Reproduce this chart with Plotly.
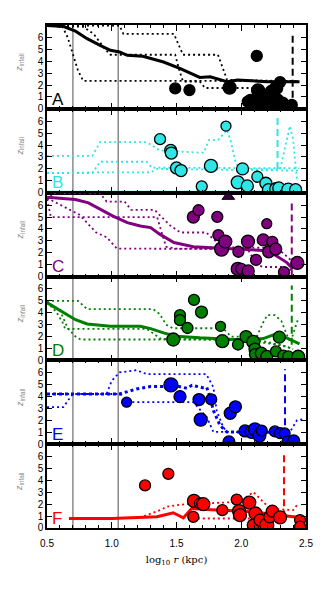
import plotly.graph_objects as go
from plotly.subplots import make_subplots

# ---- values ----
LABELS = ["A", "B", "C", "D", "E", "F"]
COLORS = ["#000000", "#2EE6E6", "#800080", "#007F00", "#0000FF", "#FF0000"]
RVIR = [2.397, 2.28, 2.39, 2.39, 2.338, 2.33]
RVIR_Y0 = [0.0, 2.0, 0.0, 1.3, 1.6, 0.9]
RVIR_Y1 = [6.35, 6.3, 6.25, 6.3, 6.3, 6.25]
GRAY_LINES = [0.7, 1.05]

# panel A
A_r = [1.49, 1.60, 1.91, 2.12, 2.05, 2.07, 2.13, 2.13, 2.17, 2.12, 2.20, 2.235, 2.27, 2.30, 2.26, 2.28, 2.32, 2.39]
A_z = [1.72, 1.58, 1.78, 4.45, 0.61, 0.75, 1.55, 0.83, 1.0, 0.35, 0.5, 1.44, 1.75, 2.25, 0.61, 0.75, 0.47, 0.33]
A_s = [11, 11, 13, 11, 11, 11, 13, 12, 13, 12, 12, 13, 13, 11, 13, 12, 12, 11]
A_med_x = [0.5, 0.63, 0.72, 0.81, 0.91, 0.99, 1.06, 1.12, 1.24, 1.40, 1.53, 1.68, 1.76, 1.89, 1.97, 2.09, 2.20, 2.45]
A_med_y = [7.0, 6.92, 6.53, 5.9, 5.33, 4.92, 4.78, 4.5, 4.42, 3.94, 3.39, 2.64, 2.69, 2.28, 2.42, 2.36, 2.28, 2.28]
A_hi_x = [0.5, 1.06, 1.09, 1.48, 1.55, 1.82, 1.89, 2.45]
A_hi_y = [7.0, 7.0, 6.3, 6.3, 4.55, 4.55, 2.45, 2.3]
A_mid_x = [0.5, 0.78, 0.86, 0.95, 0.99, 1.49, 1.52, 1.55, 1.68, 1.72, 1.86, 1.95, 2.10]
A_mid_y = [7.0, 6.9, 6.3, 5.0, 4.55, 4.55, 3.3, 2.3, 2.3, 1.75, 1.75, 1.75, 1.75]
A_lo_x = [0.5, 0.62, 0.66, 0.70, 0.74, 0.78, 2.45]
A_lo_y = [7.0, 6.9, 6.0, 4.6, 3.2, 2.35, 2.35]

# panel B
B_r = [1.373, 1.455, 1.46, 1.50, 1.535, 1.695, 1.766, 1.882, 1.973, 2.01, 2.047, 2.124, 2.19, 2.21, 2.27, 2.29, 2.363, 2.42]
B_z = [4.5, 3.55, 3.33, 2.08, 1.86, 0.53, 2.25, 5.6, 0.87, 2.0, 0.57, 1.34, 0.79, 0.25, 0.3, 0.4, 0.25, 0.25]
B_s = [11, 12, 12, 12, 12, 11, 13, 10, 13, 12, 12, 11, 12, 12, 13, 12, 13, 12]
B_med_x = [0.5, 2.45]
B_med_y = [0.04, 0.04]
B_hi_x = [0.5, 0.85, 0.91, 1.27, 1.37, 1.66, 1.71, 1.75, 1.82, 1.89, 1.92, 1.96, 2.05, 2.30, 2.35, 2.376, 2.40, 2.43]
B_hi_y = [3.1, 3.1, 4.25, 4.25, 3.55, 3.35, 3.35, 4.42, 4.42, 5.3, 4.3, 2.4, 2.0, 1.95, 4.5, 5.6, 4.5, 1.1]
B_mid_x = [0.5, 0.85, 0.91, 1.27, 1.31, 2.45]
B_mid_y = [1.65, 1.65, 2.6, 2.6, 2.1, 2.05]
B_lo_x = [0.5, 0.85, 1.30, 1.35, 2.45]
B_lo_y = [1.65, 1.7, 1.7, 2.0, 1.85]

# panel C
C_r = [1.63, 1.67, 1.815, 1.823, 1.848, 1.877, 1.978, 1.973, 2.0, 2.054, 2.052, 2.114, 2.197, 2.17, 2.212, 2.24, 2.266, 2.33, 2.433]
C_z = [5.0, 5.57, 5.02, 3.48, 2.31, 2.94, 2.08, 0.64, 0.64, 0.47, 2.94, 1.39, 4.44, 3.08, 2.08, 2.92, 2.31, 0.36, 1.14]
C_s = [12, 11, 11, 11, 14, 13, 11, 13, 11, 12, 13, 11, 10, 12, 12, 11, 12, 11, 13]
C_tri_r = [1.90]
C_tri_z = [6.72]
C_med_x = [0.5, 0.72, 0.82, 0.91, 1.01, 1.12, 1.22, 1.30, 1.37, 1.48, 1.63, 1.81, 1.94, 2.09, 2.20, 2.27, 2.35, 2.40]
C_med_y = [6.67, 6.47, 6.19, 5.64, 5.08, 4.53, 4.25, 4.11, 3.56, 2.86, 2.5, 2.39, 2.31, 2.22, 2.17, 1.75, 1.19, 0.64]
C_hi_x = [0.5, 0.55, 0.91, 0.96, 1.10, 1.15, 1.33, 1.45, 1.53, 1.73, 1.80, 1.90, 2.25, 2.32, 2.40]
C_hi_y = [6.4, 7.0, 7.0, 6.3, 6.3, 5.6, 5.6, 4.3, 3.7, 3.7, 3.0, 2.45, 2.4, 2.0, 1.2]
C_mid_x = [0.5, 0.53, 0.70, 1.04, 1.35, 1.38, 1.42, 1.50, 2.05]
C_mid_y = [6.5, 5.0, 5.0, 5.0, 5.0, 3.9, 2.5, 2.35, 2.3]
C_lo_x = [0.5, 0.75, 0.81, 0.88, 0.96, 1.04, 2.05, 2.12, 2.17, 2.33, 2.40]
C_lo_y = [6.6, 5.2, 4.5, 3.7, 3.3, 2.35, 2.3, 1.0, 0.8, 0.8, 0.5]

# panel D
D_r = [1.475, 1.527, 1.527, 1.585, 1.635, 1.693, 1.84, 1.854, 1.975, 2.037, 2.093, 2.106, 2.106, 2.155, 2.197, 2.268, 2.294, 2.325, 2.363, 2.44]
D_z = [1.75, 3.8, 3.38, 2.72, 5.08, 4.06, 2.86, 1.61, 1.33, 2.0, 1.55, 0.95, 0.52, 0.6, 0.33, 0.75, 1.95, 0.4, 0.33, 0.3]
D_s = [13, 11, 11, 11, 11, 12, 10, 13, 11, 12, 13, 12, 11, 12, 12, 11, 12, 11, 11, 13]
D_med_x = [0.5, 0.6, 0.72, 0.81, 0.99, 1.22, 1.30, 1.40, 1.50, 1.68, 1.94, 2.09, 2.17, 2.27, 2.35, 2.45]
D_med_y = [4.85, 4.17, 3.42, 3.06, 2.86, 2.86, 2.67, 2.31, 2.03, 1.89, 1.75, 1.75, 1.83, 2.22, 1.89, 1.39]
D_hi_x = [0.5, 0.74, 0.81, 1.32, 1.37, 1.42, 1.47, 1.86, 1.92, 2.12, 2.17, 2.20, 2.26, 2.31, 2.35, 2.38, 2.415, 2.44]
D_hi_y = [5.0, 5.0, 4.3, 4.3, 3.9, 3.0, 2.7, 2.7, 2.0, 2.0, 3.2, 3.8, 3.8, 3.3, 2.2, 1.5, 2.7, 3.5]
D_mid_x = [0.5, 0.57, 0.62, 0.64, 1.27, 1.33, 1.38, 2.10, 2.20, 2.35, 2.40]
D_mid_y = [4.9, 4.1, 3.2, 2.65, 2.65, 2.2, 1.8, 1.7, 1.55, 1.15, 0.95]
D_lo_x = [0.5, 0.60, 0.66, 0.72, 0.76, 1.90, 2.10, 2.20, 2.35, 2.40]
D_lo_y = [4.9, 4.2, 2.7, 2.0, 1.75, 1.75, 1.55, 1.45, 1.15, 0.95]

# panel E
E_r = [1.115, 1.457, 1.527, 1.674, 1.768, 1.687, 1.915, 1.955, 1.905, 2.029, 2.08, 2.106, 2.14, 2.158, 2.26, 2.30, 2.335, 2.36, 2.405]
E_z = [3.53, 4.98, 4.0, 3.75, 3.77, 2.06, 2.6, 3.14, 0.19, 1.11, 1.03, 1.24, 0.72, 1.14, 1.07, 0.92, 0.9, 0.19, 0.27]
E_s = [10, 14, 12, 12, 11, 13, 12, 12, 12, 12, 13, 13, 13, 11, 11, 11, 11, 12, 12]
E_med_x = [0.5, 2.40]
E_med_y = [0.04, 0.04]
E_hi_x = [0.5, 0.96, 1.0, 1.06, 1.19, 1.27, 1.73, 1.785, 1.81, 1.86, 1.89, 2.376, 2.43, 2.49]
E_hi_y = [4.22, 4.22, 5.33, 6.03, 6.22, 5.89, 5.89, 4.78, 2.83, 1.44, 1.03, 1.03, 2.0, 2.14]
E_mid_x = [0.5, 1.06, 1.19, 1.30, 1.52, 1.58, 1.62, 1.70, 1.733, 1.76, 1.785, 1.836, 1.888, 2.38]
E_mid_y = [4.22, 4.22, 4.64, 4.85, 4.85, 4.7, 4.95, 4.75, 4.78, 3.94, 2.83, 1.58, 1.03, 1.0]
E_lo_x = [0.5, 0.626, 0.68, 0.70, 1.064, 1.14, 1.63, 1.733, 1.785, 2.38]
E_lo_y = [3.11, 3.11, 3.94, 4.22, 4.22, 3.53, 3.53, 2.28, 1.03, 1.0]

# panel F
F_r = [1.257, 1.437, 1.635, 1.681, 1.707, 1.63, 1.854, 1.965, 1.983, 1.99, 2.062, 2.11, 2.093, 2.145, 2.197, 2.22, 2.24, 2.30, 2.454, 2.454]
F_z = [3.58, 4.56, 2.28, 2.06, 2.0, 0.94, 1.5, 2.39, 1.42, 1.08, 2.14, 1.22, 0.25, 0.67, 0.25, 0.94, 1.42, 0.89, 0.67, 0.11]
F_s = [11, 11, 13, 11, 13, 11, 11, 11, 13, 13, 13, 13, 12, 12, 14, 12, 12, 13, 11, 11]
F_med_x = [0.67, 1.0, 1.35, 1.475, 1.553, 1.617, 1.733, 1.99, 2.093, 2.30, 2.454]
F_med_y = [0.8, 0.8, 0.94, 1.28, 0.85, 1.64, 1.56, 1.44, 1.36, 1.08, 0.89]
F_hi_x = [1.25, 1.373, 1.424, 1.50, 1.58, 1.70, 1.965, 2.04, 2.093, 2.145, 2.22, 2.40, 2.44]
F_hi_y = [1.0, 1.5, 1.78, 1.92, 2.0, 2.05, 2.19, 2.6, 3.03, 2.47, 1.64, 1.5, 2.06]
F_lo_x = [1.55, 1.62, 2.25, 2.30]
F_lo_y = [0.95, 0.8, 0.8, 0.55]

PANELS = [
    (A_r, A_z, A_s, [(A_med_x, A_med_y, "solid"), (A_hi_x, A_hi_y, "dot"), (A_mid_x, A_mid_y, "dot"), (A_lo_x, A_lo_y, "dot")]),
    (B_r, B_z, B_s, [(B_med_x, B_med_y, "solid"), (B_hi_x, B_hi_y, "dot"), (B_mid_x, B_mid_y, "dot"), (B_lo_x, B_lo_y, "dot")]),
    (C_r, C_z, C_s, [(C_med_x, C_med_y, "solid"), (C_hi_x, C_hi_y, "dot"), (C_mid_x, C_mid_y, "dot"), (C_lo_x, C_lo_y, "dot")]),
    (D_r, D_z, D_s, [(D_med_x, D_med_y, "solid"), (D_hi_x, D_hi_y, "dot"), (D_mid_x, D_mid_y, "dot"), (D_lo_x, D_lo_y, "dot")]),
    (E_r, E_z, E_s, [(E_med_x, E_med_y, "solid"), (E_hi_x, E_hi_y, "dot"), (E_mid_x, E_mid_y, "thickdot"), (E_lo_x, E_lo_y, "dot")]),
    (F_r, F_z, F_s, [(F_med_x, F_med_y, "solid"), (F_hi_x, F_hi_y, "dot"), (F_lo_x, F_lo_y, "dot")]),
]

STYLES = {
    "solid": dict(width=3),
    "dot": dict(width=1.8, dash="2px,3px"),
    "thickdot": dict(width=3, dash="3px,3px"),
}

fig = make_subplots(rows=6, cols=1, shared_xaxes=True, vertical_spacing=0)

for i, (r, z, s, lines) in enumerate(PANELS):
    row = i + 1
    col = COLORS[i]
    sfx = "" if row == 1 else str(row)
    for gx in GRAY_LINES:
        fig.add_shape(type="line", x0=gx, x1=gx, y0=0, y1=1, yref=f"y{sfx} domain",
                      line=dict(color="#8A8A8A", width=1.5), layer="below", row=row, col=1)
    for lx, ly, st in lines:
        fig.add_trace(go.Scatter(x=lx, y=ly, mode="lines", line=dict(color=col, **STYLES[st]),
                                 hoverinfo="skip"), row=row, col=1)
    fig.add_trace(go.Scatter(x=[RVIR[i], RVIR[i]], y=[RVIR_Y0[i], RVIR_Y1[i]], mode="lines",
                             line=dict(color=col, width=2, dash="7px,4px")), row=row, col=1)
    fig.add_trace(go.Scatter(x=r, y=z, mode="markers",
                             marker=dict(size=s, color=col, opacity=1,
                                         line=dict(color="black", width=1.3))),
                  row=row, col=1)
    if i == 2:
        fig.add_trace(go.Scatter(x=C_tri_r, y=C_tri_z, mode="markers", cliponaxis=False,
                                 marker=dict(symbol="triangle-up", size=11, color="#3A003A", opacity=1,
                                             line=dict(color="black", width=1))),
                      row=row, col=1)
    fig.add_annotation(text=LABELS[i], xref=f"x{sfx} domain", yref=f"y{sfx} domain",
                       x=0.012, y=-0.02, xanchor="left", yanchor="bottom", showarrow=False,
                       font=dict(size=17, color=col, family="Liberation Sans, Arial"))
    # y-axis title placed by hand so the margin stays fixed
    fig.add_annotation(text="<i>z</i><sub>infall</sub>", xref="paper", yref=f"y{sfx} domain",
                       x=-0.104, y=0.55, xanchor="center", yanchor="middle", textangle=-90,
                       showarrow=False, font=dict(size=9, color="#8A8A8A"))

fig.update_xaxes(range=[0.5, 2.5], dtick=0.5, tickformat=".1f", ticks="inside", ticklen=6,
                 tickwidth=1, minor=dict(ticks="inside", dtick=0.1, ticklen=3, tickcolor="black"),
                 showline=True, linecolor="black", linewidth=1.5, mirror="allticks",
                 showgrid=False, zeroline=False, tickcolor="black", automargin=False,
                 ticklabelstandoff=5)
fig.update_xaxes(title=dict(text="log<sub>10</sub> <i>r</i> (kpc)", standoff=8,
                            font=dict(family="DejaVu Serif, serif", size=10)), row=6, col=1)
fig.update_yaxes(range=[0, 7.05], tickvals=[0, 1, 2, 3, 4, 5, 6], ticks="inside", ticklen=5,
                 showline=True, linecolor="black", linewidth=1.5, mirror="allticks",
                 showgrid=False, zeroline=False, tickcolor="black", automargin=False)

fig.update_layout(
    width=331, height=591,
    margin=dict(l=47, r=25, t=25, b=63),
    paper_bgcolor="white", plot_bgcolor="white",
    showlegend=False,
    font=dict(family="Liberation Sans, Arial, sans-serif", size=10, color="black"),
)

# drop the browser's default 8px body margin so the figure sits at the page origin
fig.write_html("out.html", config={"displayModeBar": False},
               post_script="document.body.style.margin='0px';")
